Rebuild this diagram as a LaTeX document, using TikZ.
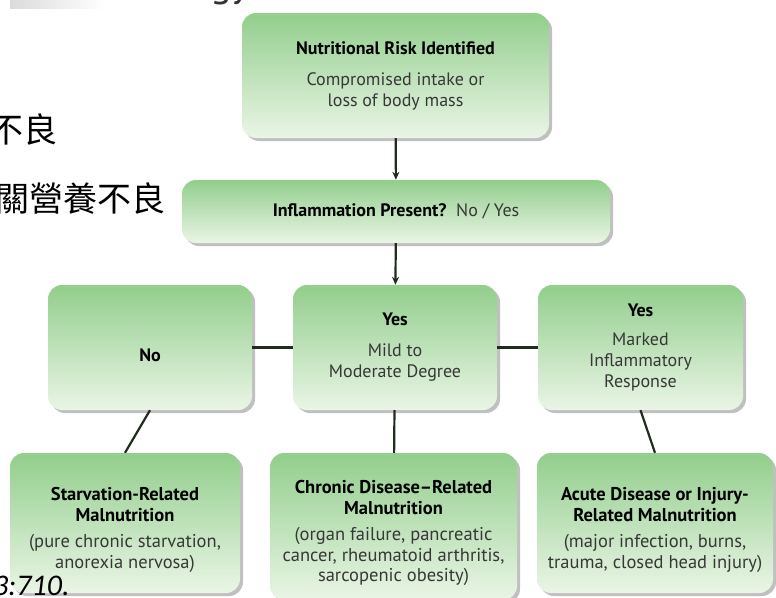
\documentclass[tikz,border=0pt]{standalone}
\usepackage{fontspec}
\setmainfont{PT Sans}
\newfontfamily\cjkfont{Noto Sans CJK TC}
\newfontfamily\notefont{Carlito}
\usetikzlibrary{positioning}
\usetikzlibrary{shadows}
\usetikzlibrary{arrows.meta}
\definecolor{boxtop}{RGB}{146,206,140}
\definecolor{boxbot}{RGB}{234,245,230}
\definecolor{linkc}{RGB}{30,45,30}
\definecolor{bodyc}{RGB}{55,55,55}
\tikzset{
    mybox/.style = {rectangle, rounded corners=14pt, top color=boxtop, bottom color=boxbot, draw=none, align=center, inner sep=0pt,
      drop shadow={shadow xshift=3pt, shadow yshift=-3pt, fill=black!55, opacity=0.45},
      font=\fontsize{18}{21}\selectfont, text=bodyc},
    myboxs/.style = {mybox, font=\fontsize{18.5}{20.5}\selectfont},
    mylink/.style = {-, line width=2.2pt, linkc},
    myarrow/.style = {-{Stealth[length=8pt,width=7pt]}, line width=2.2pt, linkc},
    mytext/.style = {inner sep=0pt, text=black}
}
\newcommand{\hd}[1]{{\bfseries\color{black}#1}}
\newcommand{\lowstrut}{\rule{0pt}{27pt}}

\begin{document}
\begin{tikzpicture}[x=1pt, y=-1pt]
  \useasboundingbox (0,0) rectangle (776,597);
  \clip (0,0) rectangle (776,597);
  % slide leftovers
  \fill[left color=black!14, right color=white] (10,0) rectangle (105,8);
  \node[mytext, anchor=base west, font=\fontsize{40}{40}\selectfont, text=black!80] (title) at (210,-4) {gy};
  \node[mytext, anchor=east, font=\cjkfont\fontsize{34}{34}\selectfont] (cjka) at (58,129) {不良};
  \node[mytext, anchor=east, font=\cjkfont\fontsize{34}{34}\selectfont] (cjkb) at (166,198) {關營養不良};
  % boxes
  \node[mybox, minimum width=307pt, minimum height=125pt] (risk) at (395.5,75.5)
    {\hd{Nutritional Risk Identified}\\[10pt] Compromised intake or\\ loss of body mass};
  \node[mybox, minimum width=428pt, minimum height=63pt] (inflam) at (396,211.5)
    {\hd{Inflammation Present?}\ \ No / Yes};
  \node[mybox, minimum width=204pt, minimum height=125pt] (no) at (150,347.5)
    {\rule{0pt}{29pt}\hd{No}};
  \node[mybox, minimum width=204pt, minimum height=125pt] (mild) at (395,347.5)
    {\hd{Yes}\\[10pt] Mild to\\ Moderate Degree};
  \node[mybox, minimum width=205pt, minimum height=125pt] (marked) at (640.5,347.5)
    {\hd{Yes}\\[8pt] Marked\\ Inflammatory\\ Response};
  \node[myboxs, minimum width=230pt, minimum height=140pt] (starv) at (125,523)
    {\lowstrut\hd{Starvation-Related}\\ \hd{Malnutrition}\\[6pt] (pure chronic starvation,\\ anorexia nervosa)};
  \node[myboxs, minimum width=247pt, minimum height=147pt] (chronic) at (393.5,526.5)
    {\lowstrut\hd{Chronic Disease--Related}\\ \hd{Malnutrition}\\[6pt] (organ failure, pancreatic\\ cancer, rheumatoid arthritis,\\ sarcopenic obesity)};
  \node[myboxs, minimum width=236pt, minimum height=140pt] (acute) at (655,523)
    {\lowstrut\hd{Acute Disease or Injury-}\\ \hd{Related Malnutrition}\\[6pt] (major infection, burns,\\ trauma, closed head injury)};
  % connectors
  \draw[myarrow] (risk) -- (inflam);
  \draw[myarrow] (inflam) -- (mild);
  \draw[mylink] (no) -- (mild);
  \draw[mylink] (mild) -- (marked);
  \draw[mylink] (no.south) -- (starv.north);
  \draw[mylink] (mild) -- (chronic);
  \draw[mylink] (marked.south) -- (acute.north);
  % citation
  \node[mytext, anchor=base west, font=\notefont\itshape\fontsize{30}{30}\selectfont] (cite) at (-7,595) {3:710.};
\end{tikzpicture}
\end{document}
